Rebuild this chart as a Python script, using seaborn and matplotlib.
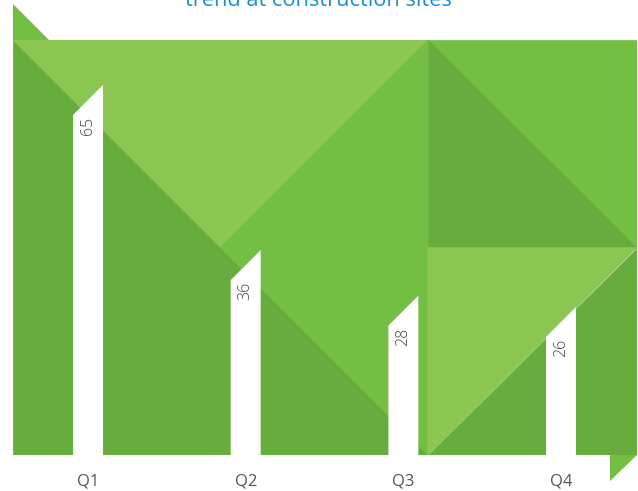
import pandas as pd
import matplotlib.pyplot as plt
import seaborn as sns
from matplotlib.patches import Polygon

quarters = ["Q1", "Q2", "Q3", "Q4"]
values = [65, 36, 28, 26]
title = "trend at construction sites"

dark = "#66ad3e"
mid = "#72bf44"
light = "#8cc653"

df = pd.DataFrame({"quarter": quarters, "value": values})

sns.set_theme(style="white")
plt.rcParams["font.family"] = ["Open Sans", "DejaVu Sans"]

fig = plt.figure(figsize=(6.38, 4.91), dpi=100)
ax = fig.add_axes([13 / 638, 36 / 491, 624 / 638, 415 / 491])

# background triangles (axes coordinates)
shapes = [
    ([(0, 1), (0, 0), (0.665, 0)], dark),
    ([(0, 1), (0.665, 1), (0.3325, 0.5)], light),
    ([(0.665, 1), (0.3325, 0.5), (0.665, 0)], mid),
    ([(0.665, 0.5), (0.665, 1), (1, 1), (1, 0.5)], mid),
    ([(0.665, 1), (0.665, 0.5), (1, 0.5)], dark),
    ([(0.665, 0.5), (1, 0.5), (0.665, 0)], light),
    ([(1, 0.5), (1, 0), (0.665, 0)], dark),
]
for pts, c in shapes:
    ax.add_patch(Polygon(pts, closed=True, transform=ax.transAxes,
                         facecolor=c, edgecolor=c, lw=0.5, zorder=0))

# small corner decorations (figure pixels)
def px(p):
    return (p[0] / 638, 1 - p[1] / 491)

for pts in ([(13, 4), (13, 40), (49, 40)], [(610, 455), (637, 455), (610, 481)]):
    fig.patches.append(Polygon([px(p) for p in pts], closed=True,
                               transform=fig.transFigure, facecolor=mid,
                               edgecolor="none"))

sns.barplot(data=df, x="quarter", y="value", color="white", width=0.19,
            saturation=1, ax=ax, zorder=2)
ax.set_xlim(-0.476, 3.482)
ax.set_ylim(0, 72.9)

# turn bars into slanted-top shapes
bars = list(ax.patches)
for bar in bars:
    if not hasattr(bar, "get_width"):
        continue
    x0 = bar.get_x()
    w = bar.get_width()
    h = bar.get_height()
    p0 = ax.transData.transform((x0, 0))
    p1 = ax.transData.transform((x0 + w, 0))
    wpx = p1[0] - p0[0]
    ypx = ax.transData.transform((0, h))[1] - wpx
    drop = h - ax.transData.inverted().transform((0, ypx))[1]
    poly = Polygon([(x0, 0), (x0, h - drop), (x0 + w, h), (x0 + w, 0)],
                   closed=True, facecolor="white", edgecolor="none", zorder=3)
    bar.set_visible(False)
    ax.add_patch(poly)
    ax.text(x0 + w / 2, h - drop - 0.3, f"{h:.0f}", rotation=90,
            ha="center", va="top", fontsize=11.5, color="#444444",
            fontweight="light", zorder=4)

ax.set_xlabel("")
ax.set_ylabel("")
ax.set_yticks([])
ax.tick_params(axis="x", length=0, pad=13, labelsize=12, labelcolor="#555555")
for s in ax.spines.values():
    s.set_visible(False)

fig.text(318 / 638, 1 - 6 / 491, title, ha="center", va="baseline",
         fontsize=15.7, color="#1b8fd2")

fig.savefig("out.png", dpi=100)
